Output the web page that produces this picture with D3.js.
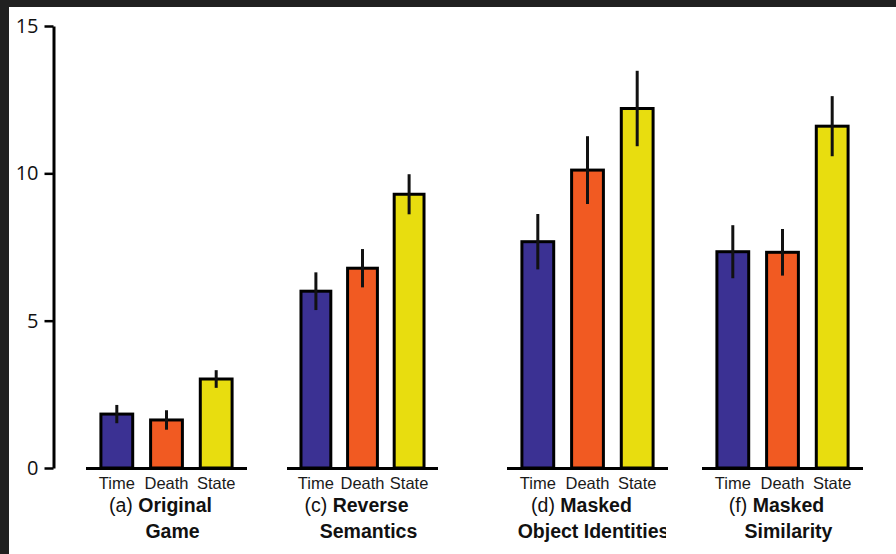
<!DOCTYPE html>
<html>
<head>
<meta charset="utf-8">
<script src="https://cdn.jsdelivr.net/npm/d3@7"></script>
<style>
  html, body { margin: 0; padding: 0; background: #202020; }
  svg { display: block; }
</style>
</head>
<body>
<svg id="chart" width="896" height="554"></svg>
<script>
// Conditions shown in each group of bars
const categories = ["Time", "Death", "State"];
const colors = ["#3b3193", "#f15a22", "#e8dd0f"];

// Experiment panels
const panelTags = ["(a)", "(c)", "(d)", "(f)"];
const panelTitle1 = ["Original", "Reverse", "Masked", "Masked"];
const panelTitle2 = ["Game", "Semantics", "Object Identities", "Similarity"];

// Mean values per panel (Time, Death, State)
const originalGame = [1.83, 1.63, 3.02];
const reverseSemantics = [6.0, 6.78, 9.29];
const maskedObjects = [7.68, 10.11, 12.2];
const maskedSimilarity = [7.34, 7.32, 11.6];

// Error bar half-lengths per panel
const originalGameErr = [0.31, 0.33, 0.30];
const reverseSemanticsErr = [0.64, 0.65, 0.68];
const maskedObjectsErr = [0.94, 1.15, 1.28];
const maskedSimilarityErr = [0.90, 0.79, 1.02];

// Y axis ticks
const yTicks = [0, 5, 10, 15];

const panelValues = [originalGame, reverseSemantics, maskedObjects, maskedSimilarity];
const panelErrors = [originalGameErr, reverseSemanticsErr, maskedObjectsErr, maskedSimilarityErr];

const svg = d3.select("#chart");
const W = 896, H = 554;

// white page inside the dark frame
svg.append("rect").attr("x", 9).attr("y", 7).attr("width", W - 9).attr("height", H - 7).attr("fill", "#ffffff");

const y = d3.scaleLinear().domain([0, 15]).range([468, 26]);

// y axis
const yAxis = svg.append("g")
  .attr("transform", "translate(53.5,0)")
  .call(d3.axisLeft(y).tickValues(yTicks).tickSize(9).tickSizeOuter(0).tickPadding(6));
yAxis.select(".domain").attr("stroke", "#000").attr("stroke-width", 3);
yAxis.selectAll(".tick line").attr("stroke", "#000").attr("stroke-width", 2.5);
yAxis.selectAll(".tick text")
  .attr("fill", "#111")
  .style("font-family", "'Open Sans', 'Noto Sans', sans-serif")
  .style("font-size", "20px");

// Panel layout: left edge and width of each baseline
const panelLeft = [86, 287, 507, 702];
const panelWidth = [161, 151, 161, 161];

const labelFont = "'Liberation Sans', Arial, sans-serif";

panelValues.forEach((vals, p) => {
  const errs = panelErrors[p];
  const x = d3.scaleBand()
    .domain(categories)
    .range([panelLeft[p], panelLeft[p] + panelWidth[p]])
    .paddingInner(0.36)
    .paddingOuter(0.3);

  const g = svg.append("g");
  const rows = categories.map((c, i) => ({ c, v: vals[i], e: errs[i], color: colors[i] }));

  // bars
  g.selectAll("rect.bar").data(rows).join("rect")
    .attr("class", "bar")
    .attr("x", d => x(d.c))
    .attr("y", d => y(d.v))
    .attr("width", x.bandwidth())
    .attr("height", d => y(0) - y(d.v))
    .attr("fill", d => d.color)
    .attr("stroke", "#000")
    .attr("stroke-width", 3);

  // baseline
  g.append("line")
    .attr("x1", panelLeft[p]).attr("x2", panelLeft[p] + panelWidth[p])
    .attr("y1", y(0) + 0.5).attr("y2", y(0) + 0.5)
    .attr("stroke", "#000").attr("stroke-width", 3);

  // error bars
  g.selectAll("line.err").data(rows).join("line")
    .attr("class", "err")
    .attr("x1", d => x(d.c) + x.bandwidth() / 2)
    .attr("x2", d => x(d.c) + x.bandwidth() / 2)
    .attr("y1", d => y(d.v - d.e))
    .attr("y2", d => y(d.v + d.e))
    .attr("stroke", "#111").attr("stroke-width", 3);

  // category labels
  g.selectAll("text.cat").data(rows).join("text")
    .attr("class", "cat")
    .attr("x", d => x(d.c) + x.bandwidth() / 2)
    .attr("y", 489)
    .attr("text-anchor", "middle")
    .attr("fill", "#1a1a1a")
    .style("font-family", labelFont)
    .style("font-size", "16.5px")
    .text(d => d.c);

  // panel title
  const cx = panelLeft[p] + panelWidth[p] / 2;
  const t1 = g.append("text")
    .attr("x", cx - 6).attr("y", 512)
    .attr("text-anchor", "middle")
    .attr("fill", "#111")
    .style("font-family", labelFont)
    .style("font-size", "19.5px");
  t1.append("tspan").text(panelTags[p] + " ");
  t1.append("tspan").attr("font-weight", "bold").text(panelTitle1[p]);

  const clipId = "clip" + p;
  svg.append("clipPath").attr("id", clipId)
    .append("rect").attr("x", 0).attr("y", 0).attr("width", 666).attr("height", H);

  const t2 = g.append("text")
    .attr("x", cx + 6).attr("y", 538)
    .attr("text-anchor", "middle")
    .attr("fill", "#111")
    .attr("font-weight", "bold")
    .style("font-family", labelFont)
    .style("font-size", "19.5px")
    .text(panelTitle2[p]);
  if (p === 2) t2.attr("clip-path", `url(#${clipId})`);
});
</script>
</body>
</html>
